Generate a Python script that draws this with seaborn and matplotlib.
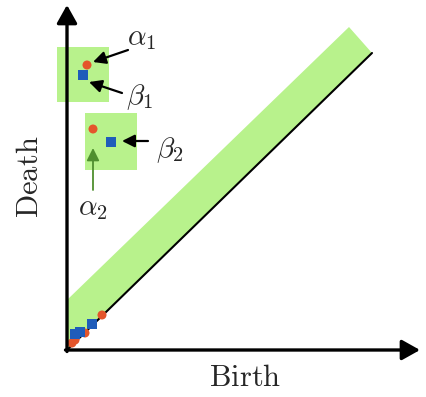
import matplotlib
matplotlib.use("Agg")
import matplotlib.pyplot as plt
import seaborn as sns
import pandas as pd
from matplotlib.patches import Polygon, Rectangle

sns.set_style("white")
plt.rcParams["mathtext.fontset"] = "cm"

# Data (coordinates in the diagram's birth/death units)
circle_birth = [8, 18, 35, 5, 20, 26]
circle_death = [10, 17, 35, 7, 285, 221]
square_birth = [8, 13, 25, 16, 44]
square_death = [16, 18, 26, 275, 208]
diag_end = (305, 297)
band_pts = [(0, 0), (305, 297), (282, 323), (0, 50)]
box1 = (-10, 248, 52, 55)   # x, y, w, h
box2 = (18, 180, 52, 57)
labels = [r"$\alpha_1$", r"$\beta_1$", r"$\beta_2$", r"$\alpha_2$"]

GREEN = "#b8f28c"
ORANGE = "#e4552b"
BLUE = "#1f5cba"

fig = plt.figure(figsize=(4.26, 3.97), dpi=100)
ax = fig.add_axes([0, 0, 1, 1])
ax.set_xlim(-67, 359)
ax.set_ylim(-47, 350)
ax.axis("off")

ax.add_patch(Polygon(band_pts, closed=True, facecolor=GREEN, edgecolor="none", zorder=1))
ax.add_patch(Rectangle(box1[:2], box1[2], box1[3], facecolor=GREEN, edgecolor="none", zorder=1, clip_on=False))
ax.add_patch(Rectangle(box2[:2], box2[2], box2[3], facecolor=GREEN, edgecolor="none", zorder=1))

ax.plot([0, diag_end[0]], [0, diag_end[1]], color="black", lw=1.5, zorder=2)

circles = pd.DataFrame({"b": circle_birth, "d": circle_death})
squares = pd.DataFrame({"b": square_birth, "d": square_death})
sns.scatterplot(data=circles, x="b", y="d", ax=ax, marker="o", s=42, color=ORANGE,
                edgecolor="none", zorder=3, legend=False)
sns.scatterplot(data=squares, x="b", y="d", ax=ax, marker="s", s=46, color=BLUE,
                edgecolor="none", zorder=4, legend=False)
ax.set_xlim(-67, 359)
ax.set_ylim(-47, 350)
ax.set_xlabel("")
ax.set_ylabel("")

# axes arrows
ax.annotate("", xy=(353, 0), xytext=(-1.5, 0),
            arrowprops=dict(arrowstyle="-|>,head_length=0.5,head_width=0.28", lw=2.4,
                            color="black", mutation_scale=22, shrinkA=0, shrinkB=0), zorder=5)
ax.annotate("", xy=(0, 345), xytext=(0, -1.5),
            arrowprops=dict(arrowstyle="-|>,head_length=0.5,head_width=0.28", lw=2.4,
                            color="black", mutation_scale=22, shrinkA=0, shrinkB=0), zorder=5)

# labelled arrows
arrow_kw = dict(arrowstyle="-|>,head_length=0.5,head_width=0.25", lw=1.6,
                color="black", mutation_scale=15, shrinkA=0, shrinkB=0)
ax.annotate("", xy=(26, 288), xytext=(61, 300), arrowprops=arrow_kw)
ax.annotate("", xy=(22, 268), xytext=(55, 257), arrowprops=arrow_kw)
ax.annotate("", xy=(55, 209), xytext=(81, 209), arrowprops=arrow_kw)
green_kw = dict(arrow_kw, color="#4f8f2f", lw=1.3)
ax.annotate("", xy=(26, 202), xytext=(26, 160), arrowprops=green_kw)

fs = 21
ax.text(75, 312, labels[0], fontsize=fs, ha="center", va="center")
ax.text(73, 253, labels[1], fontsize=fs, ha="center", va="center")
ax.text(103, 200, labels[2], fontsize=fs, ha="center", va="center")
ax.text(26, 142, labels[3], fontsize=fs, ha="center", va="center")

ax.text(178, -28, r"$\mathrm{Birth}$", fontsize=22, ha="center", va="center")
ax.text(-37, 173, r"$\mathrm{Death}$", fontsize=22, ha="center", va="center", rotation=90)

fig.savefig("out.png", dpi=100)
